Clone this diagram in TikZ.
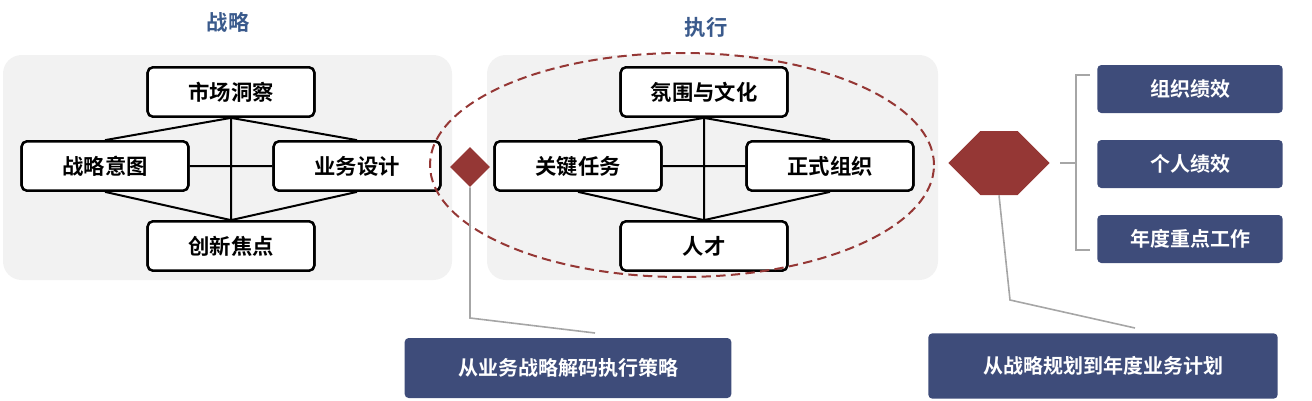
\documentclass[tikz,border=0pt]{standalone}
\usepackage{fontspec}
\setmainfont{Noto Sans CJK SC}[BoldFont={Noto Sans CJK SC Bold}]
\usetikzlibrary{shapes.geometric,shapes.arrows}
\definecolor{navy}{HTML}{3E4C7A}
\definecolor{dred}{HTML}{953735}
\definecolor{ttl}{HTML}{3A5A8C}
\definecolor{panel}{HTML}{F2F2F2}
\begin{document}
\begin{tikzpicture}[x=0.75pt,y=-0.75pt,
  wbox/.style={draw=black,line width=1.8pt,fill=white,rounded corners=4pt,minimum width=125pt,minimum height=37pt,font=\fontsize{16}{16}\selectfont\bfseries,inner sep=0pt},
  nbox/.style={fill=navy,rounded corners=3pt,text=white,font=\fontsize{15}{15}\selectfont\bfseries,inner sep=0pt},
  lnk/.style={line width=1.5pt},
  lead/.style={draw=gray!70,line width=1.2pt}]
\useasboundingbox (0,0) rectangle (1312,400);
\fill[panel,rounded corners=14pt] (3,55) rectangle (452,280);
\fill[panel,rounded corners=14pt] (487,55) rectangle (938,280);
\node[text=ttl,font=\fontsize{16}{16}\selectfont\bfseries] (t1) at (228,22) {战略};
\node[text=ttl,font=\fontsize{16}{16}\selectfont\bfseries] (t2) at (706,27) {执行};
% left
\node[wbox] (a1) at (231,92) {市场洞察};
\node[wbox] (a2) at (105,166) {战略意图};
\node[wbox] (a3) at (357,166) {业务设计};
\node[wbox] (a4) at (231,246) {创新焦点};
\begin{scope}[on background layer/.try]
\end{scope}
\draw[lnk] (a1.south) -- (a2.north) (a1.south) -- (a3.north) (a4.north) -- (a2.south) (a4.north) -- (a3.south) (a1.south) -- (a4.north) (a2.east) -- (a3.west);
\node[wbox] (a1) at (231,92) {市场洞察};
\node[wbox] (a2) at (105,166) {战略意图};
\node[wbox] (a3) at (357,166) {业务设计};
\node[wbox] (a4) at (231,246) {创新焦点};
% middle
\node[wbox] (b1) at (704,92) {};
\node[wbox] (b2) at (578,166) {};
\node[wbox] (b3) at (830,166) {};
\node[wbox] (b4) at (704,246) {};
\draw[lnk] (b1.south) -- (b2.north) (b1.south) -- (b3.north) (b4.north) -- (b2.south) (b4.north) -- (b3.south) (b1.south) -- (b4.north) (b2.east) -- (b3.west);
\node[wbox] at (704,92) {氛围与文化};
\node[wbox] at (578,166) {关键任务};
\node[wbox] at (830,166) {正式组织};
\node[wbox] at (704,246) {人才};
\node[draw=dred,dashed,line width=1.5pt,dash pattern=on 7pt off 4pt,ellipse,minimum width=378pt,minimum height=168pt] (el) at (682,165) {};
\node[fill=dred,diamond,minimum width=30pt,minimum height=30pt,inner sep=0pt] (dm) at (470,167) {};
\node[fill=dred,double arrow,double arrow head extend=0pt,minimum height=76pt,minimum width=48pt,inner sep=0pt,double arrow head indent=0pt] (da) at (999,163) {};
% bracket
\coordinate (br1) at (1090,75);
\coordinate (br2) at (1090,250);
\coordinate (brm) at (1060,163);
\draw[lead] (br1) -- (1076,75) -- (1076,250) -- (br2);
\draw[lead] (1076,163) -- (brm);
\node[nbox,minimum width=139pt,minimum height=36pt] (r1) at (1190,89) {组织绩效};
\node[nbox,minimum width=139pt,minimum height=36pt] (r2) at (1190,164) {个人绩效};
\node[nbox,minimum width=139pt,minimum height=36pt] (r3) at (1190,239) {年度重点工作};
\node[nbox,minimum width=245pt,minimum height=45pt] (c1) at (568,368) {从业务战略解码执行策略};
\node[nbox,minimum width=262pt,minimum height=49pt] (c2) at (1103,366) {从战略规划到年度业务计划};
\coordinate (k1) at (470,318);
\coordinate (k2) at (1010,300);
\draw[lead] (dm.south) -- (k1) -- (595,333);
\draw[lead] (da.south) -- (k2) -- (1135,328);
\end{tikzpicture}
\end{document}
